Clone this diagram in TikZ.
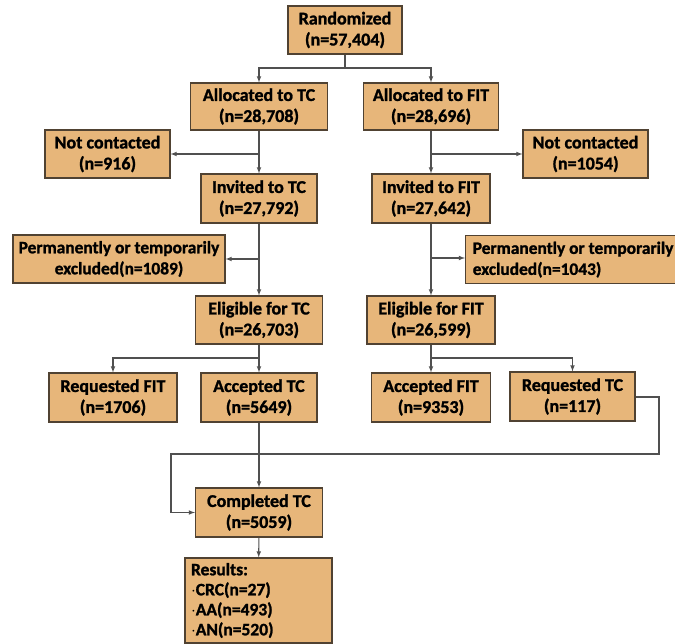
\documentclass[tikz,border=0pt]{standalone}
\usepackage{fontspec}
\setmainfont{Carlito}[BoldFeatures={FakeBold=1.3}]
\definecolor{boxfill}{RGB}{231,182,122}
\definecolor{boxline}{RGB}{80,66,50}
\definecolor{linkgray}{RGB}{80,80,80}
\tikzset{
  flowbox/.style={draw=boxline, line width=1.2pt, fill=boxfill, align=center,
    inner sep=2pt, font=\bfseries\fontsize{18}{21}\selectfont},
  link/.style={draw=linkgray, line width=1.1pt},
  linkarrow/.style={link, ->}
}
\begin{document}
\begin{tikzpicture}[x=1pt, y=-1pt, >=latex]
  \useasboundingbox (0,0) rectangle (675,644);

  % Boxes
  \node[flowbox, minimum width=114pt, minimum height=48pt] (rand) at (345,30) {Randomized\\(n=57,404)};
  \node[flowbox, minimum width=137pt, minimum height=47pt] (alloctc) at (259,106.5) {Allocated to TC\\(n=28,708)};
  \node[flowbox, minimum width=135pt, minimum height=47pt] (allocfit) at (431,106.5) {Allocated to FIT\\(n=28,696)};
  \node[flowbox, minimum width=125pt, minimum height=48pt] (nocontl) at (107.5,154) {Not contacted\\(n=916)};
  \node[flowbox, minimum width=125pt, minimum height=48pt] (nocontr) at (585.5,154) {Not contacted\\(n=1054)};
  \node[flowbox, minimum width=116pt, minimum height=49pt] (invtc) at (259,198.5) {Invited to TC\\(n=27,792)};
  \node[flowbox, minimum width=118pt, minimum height=49pt] (invfit) at (431,198.5) {Invited to FIT\\(n=27,642)};
  \node[flowbox, minimum width=212pt, minimum height=48pt, font=\bfseries\fontsize{17.4}{21}\selectfont] (excll) at (119,259) {Permanently or temporarily\\excluded(n=1089)};
  \node[flowbox, minimum width=215pt, minimum height=48pt, anchor=north west, align=left,
    font=\bfseries\fontsize{17.4}{21}\selectfont] (exclr) at (465,235) {Permanently or temporarily\\excluded(n=1043)};
  \node[flowbox, minimum width=127pt, minimum height=48pt] (eligtc) at (259,320) {Eligible for TC\\(n=26,703)};
  \node[flowbox, minimum width=128pt, minimum height=48pt] (eligfit) at (431,320) {Eligible for FIT\\(n=26,599)};
  \node[flowbox, minimum width=128pt, minimum height=49pt] (reqfit) at (113,397.5) {Requested FIT\\(n=1706)};
  \node[flowbox, minimum width=116pt, minimum height=49pt] (acctc) at (259,397.5) {Accepted TC\\(n=5649)};
  \node[flowbox, minimum width=119pt, minimum height=49pt] (accfit) at (431,397.5) {Accepted FIT\\(n=9353)};
  \node[flowbox, minimum width=125pt, minimum height=49pt] (reqtc) at (572.5,396.5) {Requested TC\\(n=117)};
  \node[flowbox, minimum width=127pt, minimum height=49pt] (comptc) at (259,512.5) {Completed TC\\(n=5059)};
  \node[flowbox, minimum width=147pt, minimum height=85pt, align=left, text width=135pt,
    font=\bfseries\fontsize{17.5}{20}\selectfont] (results) at (258.5,600.5) {Results:\\$\cdot$CRC(n=27)\\$\cdot$AA(n=493)\\$\cdot$AN(n=520)};

  % Randomisation split
  \coordinate (split) at (345,68);
  \draw[link] (rand.south) -- (split);
  \draw[linkarrow] (split) -| (alloctc.north);
  \draw[linkarrow] (split) -| (allocfit.north);

  % TC arm
  \draw[linkarrow] (alloctc) -- (invtc);
  \draw[linkarrow] (alloctc.south |- nocontl.east) -- (nocontl.east);
  \draw[linkarrow] (invtc) -- (eligtc);
  \draw[linkarrow] (invtc.south |- excll.east) -- (excll.east);
  \coordinate (tcsplit) at (259,358);
  \draw[link] (eligtc.south) -- (tcsplit);
  \draw[linkarrow] (tcsplit) -| (reqfit.north);
  \draw[linkarrow] (tcsplit) -- (acctc.north);
  \draw[linkarrow] (acctc) -- (comptc);

  % FIT arm
  \draw[linkarrow] (allocfit) -- (invfit);
  \draw[linkarrow] (allocfit.south |- nocontr.west) -- (nocontr.west);
  \draw[linkarrow] (invfit) -- (eligfit);
  \draw[linkarrow] (invfit.south |- 0,258) -- (exclr.west |- 0,258);
  \coordinate (fitsplit) at (431,358);
  \draw[link] (eligfit.south) -- (fitsplit);
  \draw[linkarrow] (fitsplit) -| (reqtc.north);
  \draw[linkarrow] (fitsplit) -- (accfit.north);

  % Requested TC loops back
  \coordinate (loopa) at (659,397);
  \coordinate (loopb) at (659,454);
  \coordinate (loopc) at (171,454);
  \draw[linkarrow] (reqtc.east |- loopa) -- (loopa) -- (loopb) -- (loopc) |- (comptc.west);

  % Results
  \draw[linkarrow] (comptc) -- (results);
\end{tikzpicture}
\end{document}
